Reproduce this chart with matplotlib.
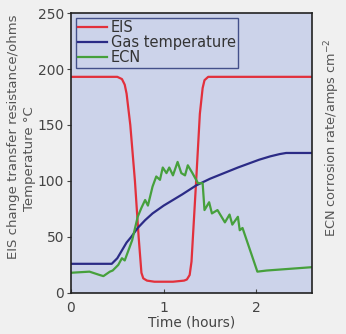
import matplotlib
matplotlib.use("Agg")
import matplotlib.pyplot as plt

plt.rcParams['font.family'] = ['DejaVu Sans']

# EIS charge transfer resistance (ohms)
eis_t = [0, 0.5, 0.55, 0.58, 0.6, 0.64, 0.69, 0.73, 0.76, 0.78, 0.82, 0.9, 1.1,
         1.22, 1.25, 1.28, 1.3, 1.35, 1.39, 1.42, 1.44, 1.48, 2.6]
eis_v = [193, 193, 191, 186, 178, 150, 100, 50, 18, 13, 11, 10, 10,
         11, 12, 16, 28, 100, 160, 183, 190, 193, 193]

# gas temperature (C)
gas_t = [0, 0.44, 0.5, 0.55, 0.6, 0.65, 0.72, 0.8, 0.88, 1.0, 1.1, 1.2, 1.35,
         1.5, 1.68, 1.8, 2.03, 2.15, 2.25, 2.32, 2.6]
gas_v = [26, 26, 31, 38, 45, 50, 58, 65, 71, 78, 83, 88, 96,
         102, 108, 112, 119, 122, 124, 125, 125]

# ECN corrosion rate
ecn_t = [0, 0.2, 0.31, 0.35, 0.42, 0.45, 0.51, 0.55, 0.58, 0.66, 0.72, 0.76,
         0.80, 0.83, 0.88, 0.92, 0.96, 0.99, 1.03, 1.06, 1.10, 1.15, 1.19,
         1.23, 1.26, 1.31, 1.37, 1.42, 1.44, 1.49, 1.52, 1.58, 1.66, 1.71,
         1.74, 1.80, 1.82, 1.85, 2.01, 2.11, 2.6]
ecn_v = [18, 19, 16, 15, 19, 20, 25, 31, 29, 47, 68, 76,
         83, 78, 95, 104, 101, 112, 107, 112, 105, 117, 107,
         105, 114, 107, 98, 98, 74, 81, 71, 74, 63, 70,
         61, 68, 56, 58, 19, 20, 23]

fig = plt.figure(figsize=(3.46, 3.34), dpi=100, facecolor='#f0f0f0')
ax = fig.add_axes([0.205, 0.123, 0.697, 0.838])
ax.set_facecolor('#ccd3ea')

ax.plot(eis_t, eis_v, color='#e2303c', lw=1.6, label='EIS')
ax.plot(gas_t, gas_v, color='#2b2b86', lw=1.6, label='Gas temperature')
ax.plot(ecn_t, ecn_v, color='#46a03c', lw=1.6, label='ECN')

ax.set_xlim(0, 2.6)
ax.set_ylim(0, 250)
ax.set_xticks([0, 1, 2])
ax.set_yticks([0, 50, 100, 150, 200, 250])
ax.tick_params(axis='x', direction='in', length=3, labelsize=10, colors='#444444', pad=6)
ax.tick_params(axis='y', direction='out', length=3, labelsize=10, colors='#444444', pad=2)
for s in ax.spines.values():
    s.set_color('#222222')
    s.set_linewidth(1.2)

ax.set_xlabel('Time (hours)', fontsize=9.8, color='#444444', labelpad=0)
fig.text(0.038, 0.59, 'EIS change transfer resistance/ohms', rotation=90,
         fontsize=9.5, color='#555555', ha='center', va='center')
fig.text(0.086, 0.525, 'Temperature °C', rotation=90,
         fontsize=9.5, color='#555555', ha='center', va='center')
fig.text(0.96, 0.587, 'ECN corrosion rate/amps cm$^{-2}$', rotation=90,
         fontsize=9.3, color='#555555', ha='center', va='center')

leg = ax.legend(loc='upper left', fontsize=10.5, frameon=True, fancybox=False,
                borderpad=0.15, labelspacing=0.0, handlelength=2.0,
                handletextpad=0.25, borderaxespad=0.35)
leg.get_frame().set_facecolor('#ccd3ea')
leg.get_frame().set_edgecolor('#44508a')
leg.get_frame().set_linewidth(1.0)
leg.get_frame().set_alpha(1)
for t in leg.get_texts():
    t.set_color('#333333')

fig.savefig('out.png', dpi=100, facecolor=fig.get_facecolor())
